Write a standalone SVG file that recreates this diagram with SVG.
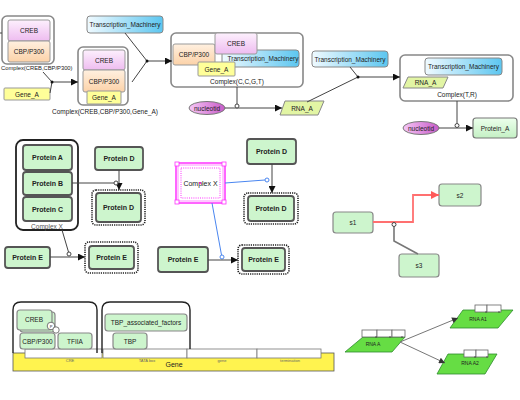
<svg xmlns="http://www.w3.org/2000/svg" width="520" height="400" viewBox="0 0 520 400">
<defs>
<linearGradient id="gPink" x1="0" y1="0" x2="0" y2="1"><stop offset="0" stop-color="#fdf0fd"/><stop offset="1" stop-color="#eebcf0"/></linearGradient>
<linearGradient id="gOrange" x1="0" y1="0" x2="0" y2="1"><stop offset="0" stop-color="#fff0e0"/><stop offset="1" stop-color="#fcd2a8"/></linearGradient>
<linearGradient id="gBlue" x1="0" y1="0" x2="1" y2="0"><stop offset="0" stop-color="#f0faff"/><stop offset="1" stop-color="#5cc6f0"/></linearGradient>
<linearGradient id="gPurple" x1="0" y1="0" x2="1" y2="0"><stop offset="0" stop-color="#f6c6f6"/><stop offset="1" stop-color="#c85ac8"/></linearGradient>
<linearGradient id="gGreen" x1="0" y1="0" x2="0" y2="1"><stop offset="0" stop-color="#ecffec"/><stop offset="1" stop-color="#c4f0c4"/></linearGradient>
<marker id="arr" viewBox="0 0 10 10" refX="10" refY="5" markerWidth="9" markerHeight="7" markerUnits="userSpaceOnUse" orient="auto"><path d="M0,0 L10,5 L0,10 z" fill="#111"/></marker>
<marker id="arrG" viewBox="0 0 10 10" refX="10" refY="5" markerWidth="8" markerHeight="6" markerUnits="userSpaceOnUse" orient="auto"><path d="M0,0 L10,5 L0,10 z" fill="#333"/></marker>
<marker id="arrR" viewBox="0 0 10 10" refX="10" refY="5" markerWidth="9" markerHeight="8" markerUnits="userSpaceOnUse" orient="auto"><path d="M0,0 L10,5 L0,10 z" fill="#ff5a5a"/></marker>
</defs>
<style>
text{font-family:"Liberation Sans",Arial,sans-serif;font-size:6.5px;fill:#222;text-anchor:middle;dominant-baseline:central}
.b{font-weight:bold;font-size:7px}
.sm{font-size:4px;fill:#666}
.cx{fill:#fff;stroke:#888;stroke-width:1.6}
.pk{fill:url(#gPink);stroke:#999;stroke-width:1}
.or{fill:url(#gOrange);stroke:#999;stroke-width:1}
.bl{fill:url(#gBlue);stroke:#888;stroke-width:1}
.ye{fill:#ffff99;stroke:#999;stroke-width:1}
.nu{fill:url(#gPurple);stroke:#777;stroke-width:1}
.rn{fill:#e2f5a4;stroke:#888;stroke-width:1}
.gp{fill:url(#gGreen);stroke:#777;stroke-width:1.2}
.pr{fill:#cdf5cd;stroke:#555;stroke-width:1.8}
.dot{fill:none;stroke:#222;stroke-width:1.6;stroke-dasharray:1.2,1}
.sg{fill:#cdf5cd;stroke:#888;stroke-width:1.2}
.ln{fill:none;stroke:#444;stroke-width:1}
.bk{fill:none;stroke:#222;stroke-width:1.4}
.blu{fill:none;stroke:#4a86f0;stroke-width:1}
.oc{fill:#fff;stroke:#444;stroke-width:1}
.ocb{fill:#fff;stroke:#4a86f0;stroke-width:1}
.rg{fill:#66dd44;stroke:#2e8a2e;stroke-width:0.8}
.wb{fill:#fff;stroke:#666;stroke-width:0.8}
.seg{fill:#fff;stroke:#777;stroke-width:0.8}
</style>

<!-- ===== Top row ===== -->
<g id="complex1">
<rect class="cx" x="2" y="16" width="52" height="48" rx="5"/>
<rect class="pk" x="8" y="20" width="42" height="21" rx="2"/><text x="29" y="30.5">CREB</text>
<rect class="or" x="8" y="41" width="42" height="21" rx="2"/><text x="29" y="51.5">CBP/P300</text>
<text x="1" y="68" style="text-anchor:start;font-size:5.8px">Complex(CREB,CBP/P300)</text>
</g>
<g id="geneA1"><rect class="ye" x="4" y="88" width="46" height="12" rx="1"/><text x="27" y="94">Gene_A</text></g>
<g id="tm1"><rect class="bl" x="87" y="16" width="76" height="17" rx="3"/><text x="125" y="24.5">Transcription_Machinery</text></g>
<g id="complex2">
<rect class="cx" x="78" y="47" width="50" height="58" rx="5"/>
<rect class="pk" x="83" y="50" width="42" height="20" rx="2"/><text x="104" y="60">CREB</text>
<rect class="or" x="83" y="70" width="42" height="22" rx="2"/><text x="104" y="81">CBP/P300</text>
<rect class="ye" x="87" y="91" width="34" height="13" rx="1"/><text x="104" y="97.5">Gene_A</text>
<text x="105" y="111">Complex(CREB,CBP/P300,Gene_A)</text>
</g>
<g id="complex3">
<rect class="cx" x="171" y="33" width="132" height="54" rx="5"/>
<rect class="or" x="173" y="44" width="42" height="21" rx="2"/><text x="194" y="54.5">CBP/P300</text>
<rect class="bl" x="222" y="50" width="77" height="17" rx="3"/><text x="263" y="58.5">Transcription_Machinery</text>
<rect class="pk" x="215" y="33" width="42" height="21" rx="2"/><text x="236" y="43.5">CREB</text>
<rect class="ye" x="198" y="62" width="37" height="14" rx="1"/><text x="216.5" y="69">Gene_A</text>
<text x="237" y="81">Complex(C,C,G,T)</text>
</g>
<g id="nuc1"><ellipse class="nu" cx="207" cy="108" rx="18" ry="6.5"/><text x="207" y="108">nucleotid</text></g>
<g id="rnaA1"><polygon class="rn" points="285,101 324,101 318,115 280,115"/><text x="302" y="108">RNA_A</text></g>
<g id="tm2"><rect class="bl" x="312" y="51" width="76" height="16" rx="3"/><text x="350" y="59">Transcription_Machinery</text></g>
<g id="complexTR">
<rect class="cx" x="400" y="55" width="113" height="46" rx="5"/>
<rect class="bl" x="425" y="58" width="77" height="17" rx="3"/><text x="463.5" y="66.5">Transcription_Machinery</text>
<polygon class="rn" points="408,77 448,77 443,88 403,88"/><text x="425.5" y="82.5">RNA_A</text>
<text x="457" y="94">Complex(T,R)</text>
</g>
<g id="nuc2"><ellipse class="nu" cx="421" cy="128" rx="18" ry="6.5"/><text x="421" y="128">nucleotid</text></g>
<g id="proteinA"><rect class="gp" x="473" y="118" width="44" height="20" rx="3"/><text x="495" y="128">Protein_A</text></g>

<!-- ===== Middle left ===== -->
<g id="complexX1">
<rect fill="#fff" stroke="#222" stroke-width="1.8" x="16" y="140" width="62" height="90" rx="7"/>
<rect class="pr" x="23" y="145" width="49" height="25" rx="3"/><text class="b" x="47.5" y="157.5">Protein A</text>
<rect class="pr" x="23" y="172" width="49" height="23" rx="3"/><text class="b" x="47.5" y="183.5">Protein B</text>
<rect class="pr" x="23" y="197" width="49" height="24" rx="3"/><text class="b" x="47.5" y="209">Protein C</text>
<text x="47" y="226" style="fill:#555">Complex X</text>
</g>
<g id="proteinD1"><rect class="pr" x="95" y="147" width="48" height="23" rx="3"/><text class="b" x="119" y="158.5">Protein D</text></g>
<g id="proteinD2"><rect class="dot" x="92" y="190" width="53" height="35" rx="4"/><rect class="pr" x="96" y="193" width="45" height="29" rx="3"/><text class="b" x="118.5" y="207.5">Protein D</text></g>
<g id="proteinE1"><rect class="pr" x="5" y="247" width="45" height="21" rx="3"/><text class="b" x="27.5" y="257.5">Protein E</text></g>
<g id="proteinE2"><rect class="dot" x="85" y="242" width="53" height="31" rx="4"/><rect class="pr" x="89" y="246" width="45" height="23" rx="3"/><text class="b" x="111.5" y="257.5">Protein E</text></g>

<!-- ===== Middle centre ===== -->
<g id="complexX2">
<rect fill="#fff" stroke="#ff33ff" stroke-width="1.5" x="176" y="163" width="49" height="40"/>
<rect fill="none" stroke="#ff66ff" stroke-width="0.7" x="178" y="165" width="45" height="36"/>
<rect fill="none" stroke="#ff33ff" stroke-width="1" stroke-dasharray="1,1.2" x="181" y="168" width="39" height="30"/>
<rect fill="#fff" stroke="#ff33ff" stroke-width="0.8" x="175" y="162" width="4" height="4"/>
<rect fill="#fff" stroke="#ff33ff" stroke-width="0.8" x="222" y="162" width="4" height="4"/>
<rect fill="#fff" stroke="#ff33ff" stroke-width="0.8" x="175" y="200" width="4" height="4"/>
<rect fill="#fff" stroke="#ff33ff" stroke-width="0.8" x="222" y="200" width="4" height="4"/>
<text x="200.5" y="183.5" style="font-size:7px">Complex X</text>
<circle cx="200" cy="183" r="1" fill="#ff00cc"/>
</g>
<g id="proteinD3"><rect class="pr" x="247" y="139" width="49" height="25" rx="3"/><text class="b" x="271.5" y="151.5">Protein D</text></g>
<g id="proteinD4"><rect class="dot" x="244" y="193" width="54" height="31" rx="4"/><rect class="pr" x="248" y="196" width="46" height="25" rx="3"/><text class="b" x="271" y="208.5">Protein D</text></g>
<g id="proteinE3"><rect class="pr" x="158" y="247" width="50" height="25" rx="3"/><text class="b" x="183" y="259.5">Protein E</text></g>
<g id="proteinE4"><rect class="dot" x="238" y="245" width="51" height="29" rx="4"/><rect class="pr" x="242" y="248" width="43" height="23" rx="3"/><text class="b" x="263.5" y="259.5">Protein E</text></g>

<!-- ===== Middle right ===== -->
<g id="s1"><rect class="sg" x="333" y="212" width="40" height="21" rx="3"/><text x="353" y="222.5">s1</text></g>
<g id="s2"><rect class="sg" x="439" y="184" width="42" height="22" rx="3"/><text x="460" y="195">s2</text></g>
<g id="s3"><rect class="sg" x="399" y="254" width="40" height="23" rx="3"/><text x="419" y="265.5">s3</text></g>

<!-- ===== Bottom left ===== -->
<g id="gene">
<rect fill="#fff34f" stroke="#555" stroke-width="0.8" x="13" y="353" width="321" height="18"/>
<rect class="seg" x="25" y="349" width="77" height="9"/>
<rect class="seg" x="103" y="349" width="84" height="9"/>
<rect class="seg" x="187" y="349" width="70" height="9"/>
<rect class="seg" x="257" y="349" width="64" height="9"/>
<text class="sm" x="70" y="360">CRE</text>
<text class="sm" x="147" y="360">TATA box</text>
<text class="sm" x="222" y="360">gene</text>
<text class="sm" x="290" y="360">termination</text>
<text x="174" y="364" style="font-size:7px">Gene</text>
</g>
<g id="complexLeft">
<path class="bk" d="M13,353 L13,310 Q13,302 21,302 L89,302 Q97,302 97,310 L97,353"/>
<rect class="sg" x="20" y="312" width="35" height="20" rx="3"/>
<rect class="sg" x="17" y="310" width="35" height="20" rx="3"/><text x="34" y="319">CREB</text>
<circle cx="51" cy="326" r="3.8" fill="#fff" stroke="#555" stroke-width="0.8"/><text x="51" y="326" style="font-size:4px">P</text>
<circle cx="56" cy="330" r="3.2" fill="#fff" stroke="#555" stroke-width="0.8"/>
<rect class="sg" x="20" y="333" width="35" height="16" rx="3"/><text x="37.5" y="341">CBP/P300</text>
<rect class="sg" x="58" y="333" width="34" height="16" rx="3"/><text x="75" y="341">TFIIA</text>
</g>
<g id="complexRight">
<path class="bk" d="M102,353 L102,310 Q102,302 110,302 L182,302 Q190,302 190,310 L190,349"/>
<rect class="sg" x="105" y="314" width="82" height="17" rx="3"/><text x="146" y="322.5">TBP_associated_factors</text>
<rect class="sg" x="113" y="333" width="34" height="16" rx="3"/><text x="130" y="341">TBP</text>
</g>

<!-- ===== Bottom right ===== -->
<g id="rnaA">
<polygon class="rg" points="363,337 405,337 392,352 345,352"/>
<rect class="wb" x="362" y="330" width="15" height="7"/><rect class="wb" x="377" y="330" width="15" height="7"/><rect class="wb" x="392" y="330" width="13" height="7"/>
<circle cx="376" cy="337" r="0.7" fill="#333"/><circle cx="390" cy="337" r="0.7" fill="#333"/><circle cx="402" cy="337" r="0.7" fill="#333"/>
<text x="373" y="344" style="font-size:5px">RNA A</text>
</g>
<g id="rnaA1n">
<polygon class="rg" points="463,310 513,310 498,328 450,328"/>
<rect class="wb" x="475" y="305" width="12" height="7"/><rect class="wb" x="487" y="305" width="14" height="7"/>
<circle cx="486" cy="312" r="0.7" fill="#333"/><circle cx="499" cy="312" r="0.7" fill="#333"/>
<text x="478" y="319" style="font-size:5px">RNA A1</text>
</g>
<g id="rnaA2n">
<polygon class="rg" points="448,354 497,354 485,374 437,374"/>
<rect class="wb" x="464" y="350" width="12" height="7"/><rect class="wb" x="476" y="350" width="12" height="7"/>
<circle cx="475" cy="357" r="0.7" fill="#333"/><circle cx="487" cy="357" r="0.7" fill="#333"/>
<text x="470" y="363" style="font-size:5px">RNA A2</text>
</g>

<!-- ===== Connectors ===== -->
<g id="connectors">
<line class="ln" x1="0" y1="33" x2="2" y2="33"/>
<line class="ln" x1="43" y1="72" x2="52" y2="82"/>
<line class="ln" x1="50" y1="93" x2="52" y2="82"/>
<line class="ln" x1="52" y1="82" x2="78" y2="82" marker-end="url(#arr)"/>
<circle cx="52" cy="82" r="1.5" fill="#111"/>
<line class="ln" x1="125" y1="33" x2="147" y2="61"/>
<line class="ln" x1="132" y1="82" x2="147" y2="61"/>
<line class="ln" x1="147" y1="61" x2="172" y2="61" marker-end="url(#arr)"/>
<circle cx="147" cy="61" r="1.5" fill="#111"/>
<line class="ln" x1="237" y1="87" x2="237" y2="104"/>
<line class="ln" x1="225" y1="108" x2="282" y2="108" marker-end="url(#arr)"/>
<circle class="oc" cx="237" cy="106" r="2"/>
<line class="ln" x1="350" y1="67" x2="358" y2="77"/>
<line class="ln" x1="307" y1="102" x2="358" y2="77"/>
<line class="ln" x1="358" y1="77" x2="400" y2="77" marker-end="url(#arr)"/>
<circle cx="358" cy="77" r="1.5" fill="#111"/>
<line class="ln" x1="457" y1="101" x2="457" y2="123"/>
<line class="ln" x1="439" y1="128" x2="473" y2="128" marker-end="url(#arr)"/>
<circle class="oc" cx="457" cy="125.5" r="2"/>

<line class="ln" x1="119" y1="170" x2="119" y2="190" marker-end="url(#arr)"/>
<line class="ln" x1="72" y1="183" x2="114" y2="183"/>
<circle class="oc" cx="116" cy="183" r="2"/>
<line class="ln" x1="50" y1="257" x2="85" y2="257" marker-end="url(#arr)"/>
<line class="ln" x1="62" y1="230" x2="68.5" y2="252"/>
<circle class="oc" cx="69" cy="254" r="2"/>

<line class="ln" x1="272" y1="164" x2="272" y2="193" marker-end="url(#arr)"/>
<line class="blu" x1="225" y1="183" x2="265" y2="180"/>
<circle class="ocb" cx="267" cy="180" r="2"/>
<line class="blu" x1="212" y1="203" x2="221.5" y2="255"/>
<circle class="ocb" cx="222" cy="257" r="2"/>
<line class="ln" x1="208" y1="260" x2="238" y2="260" marker-end="url(#arr)"/>

<polyline fill="none" stroke="#ff7070" stroke-width="1.8" points="373,222 413,222 413,195 439,195" marker-end="url(#arrR)"/>
<polyline fill="none" stroke="#777" stroke-width="1.6" points="418,254 394,241 394,226.5"/>
<circle class="oc" cx="394" cy="224.5" r="2"/>

<line stroke="#777" stroke-width="1" x1="400" y1="342" x2="458" y2="318" marker-end="url(#arrG)"/>
<line stroke="#777" stroke-width="1" x1="400" y1="342" x2="445" y2="363" marker-end="url(#arrG)"/>
</g>
</svg>
